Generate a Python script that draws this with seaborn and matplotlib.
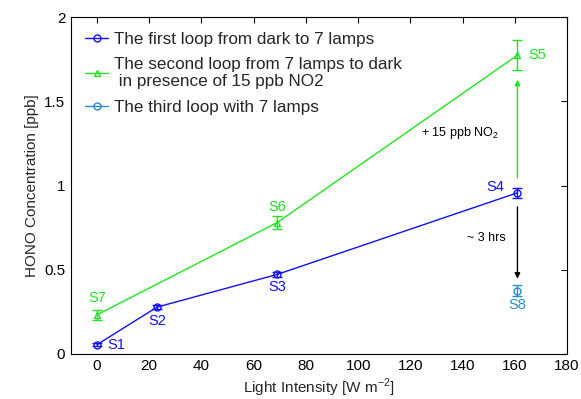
import matplotlib
matplotlib.use("Agg")
import matplotlib.pyplot as plt
import seaborn as sns
import pandas as pd

sns.set_theme(style="white")
plt.rcParams['font.family'] = ['Liberation Sans', 'DejaVu Sans']
plt.rcParams['mathtext.fontset'] = 'custom'
plt.rcParams['mathtext.rm'] = 'Liberation Sans'

# Data
loop1_x = [0, 23, 69, 161]
loop1_y = [0.055, 0.278, 0.472, 0.957]
loop1_err = [0.01, 0.012, 0.015, 0.03]
loop1_lbl = ["S1", "S2", "S3", "S4"]

loop2_x = [161, 69, 0]
loop2_y = [1.774, 0.78, 0.232]
loop2_err = [0.088, 0.04, 0.03]
loop2_lbl = ["S5", "S6", "S7"]

loop3_x = [161]
loop3_y = [0.375]
loop3_err = [0.032]
loop3_lbl = ["S8"]

names = ["The first loop from dark to 7 lamps",
         "The second loop from 7 lamps to dark\n in presence of 15 ppb NO2",
         "The third loop with 7 lamps"]
c1, c2, c3 = "#1010f5", "#1ee61e", "#2a8bd0"

fig = plt.figure(figsize=(5.81, 3.99), dpi=100)
ax = fig.add_axes([0.122, 0.113, 0.854, 0.844])

df1 = pd.DataFrame({"x": loop1_x, "y": loop1_y})
df2 = pd.DataFrame({"x": loop2_x, "y": loop2_y})
df3 = pd.DataFrame({"x": loop3_x, "y": loop3_y})

sns.lineplot(data=df1, x="x", y="y", ax=ax, color=c1, marker="o", markersize=5,
             markerfacecolor="none", markeredgecolor=c1, markeredgewidth=1, lw=1,
             sort=False, label=names[0])
sns.lineplot(data=df2, x="x", y="y", ax=ax, color=c2, marker="^", markersize=5,
             markerfacecolor="none", markeredgecolor=c2, markeredgewidth=1, lw=1,
             sort=False, label=names[1])
sns.lineplot(data=df3, x="x", y="y", ax=ax, color=c3, marker="o", markersize=5,
             markerfacecolor="none", markeredgecolor=c3, markeredgewidth=1, lw=1,
             sort=False, label=names[2])

for xs, ys, es, c in [(loop1_x, loop1_y, loop1_err, c1), (loop2_x, loop2_y, loop2_err, c2),
                      (loop3_x, loop3_y, loop3_err, c3)]:
    ax.errorbar(xs, ys, yerr=es, fmt="none", ecolor=c, elinewidth=1, capsize=3.5, capthick=1)

# point labels
fs = 10.5
ax.text(4, 0.055, loop1_lbl[0], color=c1, fontsize=fs, ha="left", va="center")
ax.text(23, 0.24, loop1_lbl[1], color=c1, fontsize=fs, ha="center", va="top")
ax.text(69, 0.44, loop1_lbl[2], color=c1, fontsize=fs, ha="center", va="top")
ax.text(156, 0.99, loop1_lbl[3], color=c1, fontsize=fs, ha="right", va="center")
ax.text(165, 1.774, loop2_lbl[0], color=c2, fontsize=fs, ha="left", va="center")
ax.text(69, 0.83, loop2_lbl[1], color=c2, fontsize=fs, ha="center", va="bottom")
ax.text(0, 0.29, loop2_lbl[2], color=c2, fontsize=fs, ha="center", va="bottom")
ax.text(161, 0.33, loop3_lbl[0], color=c3, fontsize=fs, ha="center", va="top")

# arrows
ax.annotate("", xy=(161, 1.645), xytext=(161, 1.03),
            arrowprops=dict(arrowstyle="-|>", color=c2, lw=1, mutation_scale=8))
ax.annotate("", xy=(161, 0.43), xytext=(161, 0.89),
            arrowprops=dict(arrowstyle="-|>", color="black", lw=1, mutation_scale=8))
ax.text(139, 1.31, "+ 15 ppb NO$_2$", fontsize=9, ha="center", va="center", color="black")
ax.text(149, 0.69, "~ 3 hrs", fontsize=9, ha="center", va="center", color="black")

ax.set_xlim(-10, 180)
ax.set_ylim(0, 2)
ax.set_xticks(range(0, 181, 20))
ax.set_yticks([0, 0.5, 1, 1.5, 2])
ax.set_yticklabels(["0", "0.5", "1", "1.5", "2"])
ax.tick_params(direction="in", top=True, right=True, length=4, width=0.8,
               labelsize=11, colors="black", pad=4)
for s in ax.spines.values():
    s.set_color("black")
    s.set_linewidth(0.8)
ax.set_xlabel("Light Intensity [W m$^{-2}$]", fontsize=11, labelpad=2)
ax.set_ylabel("HONO Concentration [ppb]", fontsize=11)

leg = ax.legend(loc="upper left", frameon=False, fontsize=12.3, handlelength=1.3,
                handletextpad=0.4, borderaxespad=0.45, labelspacing=0.6)

fig.savefig("out.png", dpi=100)
